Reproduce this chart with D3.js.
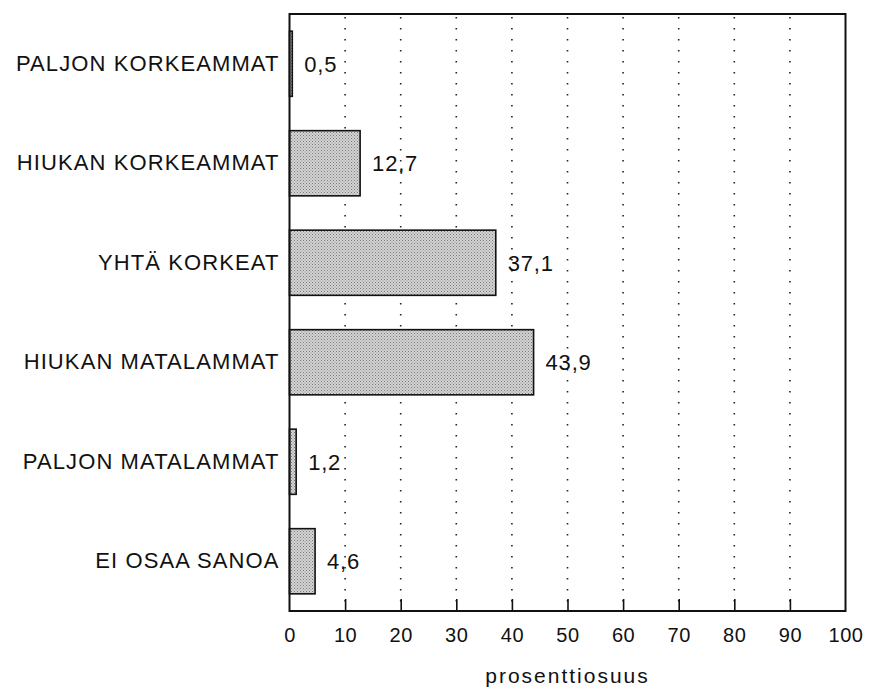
<!DOCTYPE html>
<html>
<head>
<meta charset="utf-8">
<script src="https://cdn.jsdelivr.net/npm/d3@7"></script>
<style>
  body { margin: 0; background: #fff; }
  svg { display: block; font-family: "Liberation Sans", Arial, sans-serif; }
</style>
</head>
<body>
<svg id="chart"></svg>
<script>
const categories = [
  "PALJON KORKEAMMAT",
  "HIUKAN KORKEAMMAT",
  "YHTÄ KORKEAT",
  "HIUKAN MATALAMMAT",
  "PALJON MATALAMMAT",
  "EI OSAA SANOA"
];
const values = [0.5, 12.7, 37.1, 43.9, 1.2, 4.6];
const xTicks = [0, 10, 20, 30, 40, 50, 60, 70, 80, 90, 100];
const xTitle = "prosenttiosuus";

const width = 870;
const height = 689;
const margin = { top: 14, right: 24.5, bottom: 78, left: 289.5 };

const data = categories.map((c, i) => ({ name: c, value: values[i] }));

const svg = d3.select("#chart").attr("width", width).attr("height", height);

// stipple fill like the printed original
const defs = svg.append("defs");
const pat = defs.append("pattern")
  .attr("id", "stipple")
  .attr("patternUnits", "userSpaceOnUse")
  .attr("width", 3).attr("height", 3);
pat.append("rect").attr("width", 3).attr("height", 3).attr("fill", "#d4d4d4");
pat.append("rect").attr("x", 0).attr("y", 0).attr("width", 1).attr("height", 1).attr("fill", "#7a7a7a");
pat.append("rect").attr("x", 1.5).attr("y", 1.5).attr("width", 1).attr("height", 1).attr("fill", "#8a8a8a");

const xScale = d3.scaleLinear()
  .domain([0, 100])
  .range([margin.left, width - margin.right]);

const yScale = d3.scaleBand()
  .domain(categories)
  .range([margin.top, height - margin.bottom])
  .paddingInner(0.345)
  .paddingOuter(0.1725);

// dotted grid
svg.append("g")
  .selectAll("line")
  .data(xTicks.filter(t => t > 0 && t < 100))
  .join("line")
  .attr("x1", d => xScale(d)).attr("x2", d => xScale(d))
  .attr("y1", margin.top + 3).attr("y2", height - margin.bottom)
  .attr("stroke", "#222")
  .attr("stroke-width", 1.6)
  .attr("stroke-dasharray", "1.6,9.4");

// bars
svg.append("g")
  .selectAll("rect")
  .data(data)
  .join("rect")
  .attr("x", xScale(0))
  .attr("y", d => yScale(d.name))
  .attr("width", d => xScale(d.value) - xScale(0))
  .attr("height", yScale.bandwidth())
  .attr("fill", "url(#stipple)")
  .attr("stroke", "#111")
  .attr("stroke-width", 1.6);

// value labels
const fmt = v => d3.format(".1f")(v).replace(".", ",");
svg.append("g")
  .selectAll("text")
  .data(data)
  .join("text")
  .attr("x", d => xScale(d.value) + 12)
  .attr("y", d => yScale(d.name) + yScale.bandwidth() / 2)
  .attr("dy", "0.36em")
  .attr("font-size", 22)
  .attr("letter-spacing", 0.8)
  .attr("fill", "#111")
  .text(d => fmt(d.value));

// bottom axis with inward ticks
const xAxis = d3.axisBottom(xScale)
  .tickValues(xTicks)
  .tickSizeInner(-12)
  .tickSizeOuter(0)
  .tickPadding(17);

const gx = svg.append("g")
  .attr("transform", `translate(0,${height - margin.bottom})`)
  .call(xAxis);
gx.select(".domain").remove();
gx.selectAll(".tick line").attr("stroke", "#111").attr("stroke-width", 1.6)
  .filter(d => d === 0 || d === 100).remove();
gx.selectAll(".tick text")
  .attr("font-size", 20)
  .attr("font-family", "Liberation Sans, Arial, sans-serif")
  .attr("letter-spacing", 0.6)
  .attr("fill", "#111");

// category labels
const yAxis = d3.axisLeft(yScale).tickSize(0).tickPadding(10);
const gy = svg.append("g")
  .attr("transform", `translate(${margin.left},0)`)
  .call(yAxis);
gy.select(".domain").remove();
gy.selectAll(".tick text")
  .attr("font-size", 22)
  .attr("font-family", "Liberation Sans, Arial, sans-serif")
  .attr("letter-spacing", 1.1)
  .attr("fill", "#111");

// frame
svg.append("rect")
  .attr("x", xScale(0))
  .attr("y", margin.top)
  .attr("width", xScale(100) - xScale(0))
  .attr("height", height - margin.bottom - margin.top)
  .attr("fill", "none")
  .attr("stroke", "#111")
  .attr("stroke-width", 2);

// axis title
svg.append("text")
  .attr("x", (xScale(0) + xScale(100)) / 2)
  .attr("y", 683)
  .attr("text-anchor", "middle")
  .attr("font-size", 21)
  .attr("letter-spacing", 2)
  .attr("fill", "#111")
  .text(xTitle);
</script>
</body>
</html>
